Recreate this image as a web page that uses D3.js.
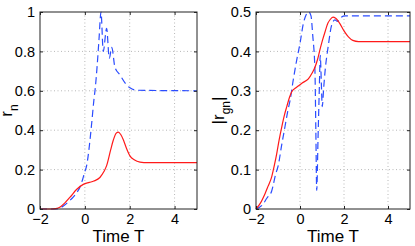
<!DOCTYPE html>
<html>
<head>
<meta charset="utf-8">
<script src="https://cdn.jsdelivr.net/npm/d3@7/dist/d3.min.js"></script>
<style>
body { margin: 0; background: #fff; }
text { font-family: "Liberation Sans", Arial, sans-serif; }
</style>
</head>
<body>
<div id="chart"></div>
<script>
// data
let xTicks = [-2, 0, 2, 4]
let xTickLabels = ["\u22122", "0", "2", "4"]
let leftYTicks = [0, 0.2, 0.4, 0.6, 0.8, 1]
let leftYTickLabels = ["0", "0.2", "0.4", "0.6", "0.8", "1"]
let rightYTicks = [0, 0.1, 0.2, 0.3, 0.4, 0.5]
let rightYTickLabels = ["0", "0.1", "0.2", "0.3", "0.4", "0.5"]

// left panel, r_n
let leftRedT = [-2, -1.5, -1.3, -1.1, -0.9, -0.66, -0.36, -0.07, 0.2, 0.4, 0.67, 0.85, 0.97, 1.15, 1.27, 1.4, 1.49, 1.6, 1.72, 1.85, 2.01, 2.2, 2.46, 2.8, 5]
let leftRedR = [0, 0, 0.002, 0.01, 0.03, 0.06, 0.1, 0.125, 0.135, 0.142, 0.16, 0.19, 0.22, 0.3, 0.35, 0.385, 0.39, 0.378, 0.35, 0.31, 0.27, 0.25, 0.238, 0.235, 0.235]
let leftBlueT = [-2, -1.3, -1.1, -0.9, -0.7, -0.52, -0.35, -0.22, -0.1, 0, 0.08, 0.2, 0.3, 0.4, 0.47, 0.55, 0.63, 0.72, 0.82, 0.97, 1.09, 1.2, 1.34, 1.57, 1.79, 2.01, 2.31, 5]
let leftBlueR = [0, 0, 0.006, 0.02, 0.04, 0.06, 0.085, 0.11, 0.15, 0.19, 0.22, 0.32, 0.43, 0.55, 0.62, 0.73, 0.86, 1, 0.8, 0.917, 0.765, 0.82, 0.72, 0.68, 0.64, 0.615, 0.603, 0.6]

// right panel, |r_gn|
let rightRedT = [-2, -1.8, -1.59, -1.45, -1.29, -1.15, -1.06, -0.95, -0.83, -0.7, -0.6, -0.48, -0.38, -0.2, -0.08, 0.1, 0.38, 0.55, 0.68, 0.8, 0.91, 1.02, 1.14, 1.27, 1.36, 1.5, 1.62, 1.82, 2, 2.2, 2.4, 2.66, 5]
let rightRedR = [0, 0.015, 0.039, 0.058, 0.081, 0.115, 0.14, 0.175, 0.208, 0.24, 0.26, 0.283, 0.297, 0.307, 0.312, 0.32, 0.33, 0.345, 0.36, 0.38, 0.405, 0.428, 0.45, 0.472, 0.48, 0.487, 0.484, 0.47, 0.452, 0.437, 0.428, 0.425, 0.425]
let rightBlueT = [-2, -1.73, -1.5, -1.29, -1.1, -0.99, -0.84, -0.68, -0.55, -0.45, -0.3, -0.15, 0, 0.15, 0.28, 0.4, 0.5, 0.58, 0.68, 0.72, 0.76, 0.82, 0.88, 0.92, 0.97, 1.01, 1.08, 1.14, 1.29, 1.44, 1.59, 1.7, 1.82, 2.05, 5]
let rightBlueR = [0, 0.009, 0.028, 0.045, 0.09, 0.11, 0.16, 0.21, 0.25, 0.276, 0.33, 0.378, 0.42, 0.47, 0.493, 0.5, 0.49, 0.44, 0.35, 0.2, 0.047, 0.18, 0.31, 0.39, 0.32, 0.26, 0.31, 0.35, 0.416, 0.467, 0.48, 0.476, 0.484, 0.49, 0.49]

let width = 415
let height = 246

let svg = d3.select("#chart")
            .append("svg")
            .attr("width", width)
            .attr("height", height)

function drawPanel(p) {
    let x = d3.scaleLinear().domain([-2, 5]).range([p.left, p.right])
    let y = d3.scaleLinear().domain([0, p.yMax]).range([p.bottom, p.top])
    let g = svg.append("g")

    // dotted grid
    g.selectAll(".gx").data(xTicks.filter(d => d > -2))
        .enter().append("line")
        .attr("x1", d => x(d)).attr("x2", d => x(d))
        .attr("y1", p.top).attr("y2", p.bottom)
        .attr("stroke", "#b8b8b8").attr("stroke-dasharray", "1,2.5")
    g.selectAll(".gy").data(p.yTicks.filter(d => d > 0 && d < p.yMax))
        .enter().append("line")
        .attr("y1", d => y(d)).attr("y2", d => y(d))
        .attr("x1", p.left).attr("x2", p.right)
        .attr("stroke", "#b8b8b8").attr("stroke-dasharray", "1,2.5")

    let line = d3.line()
        .x(d => x(d[0]))
        .y(d => y(d[1]))
        .curve(d3.curveMonotoneX)

    g.append("path")
        .datum(d3.zip(p.blueT, p.blueR))
        .attr("d", line)
        .attr("fill", "none")
        .attr("stroke", "#2b4cff")
        .attr("stroke-width", 1.2)
        .attr("stroke-dasharray", "7,4")

    g.append("path")
        .datum(d3.zip(p.redT, p.redR))
        .attr("d", line)
        .attr("fill", "none")
        .attr("stroke", "#ff1a1a")
        .attr("stroke-width", 1.2)

    // axes, ticks pointing inside
    let bottom = g.append("g").attr("transform", `translate(0,${p.bottom})`)
        .call(d3.axisBottom(x).tickValues(xTicks).tickSize(-3).tickPadding(5)
            .tickFormat((d, i) => xTickLabels[i]))
    let top = g.append("g").attr("transform", `translate(0,${p.top})`)
        .call(d3.axisTop(x).tickValues(xTicks).tickSize(-3).tickFormat(""))
    let left = g.append("g").attr("transform", `translate(${p.left},0)`)
        .call(d3.axisLeft(y).tickValues(p.yTicks).tickSize(-3).tickPadding(5)
            .tickFormat((d, i) => p.yLabels[i]))
    let right = g.append("g").attr("transform", `translate(${p.right},0)`)
        .call(d3.axisRight(y).tickValues(p.yTicks).tickSize(-3).tickFormat(""))

    ;[bottom, top, left, right].forEach(a => {
        a.select(".domain").remove()
        a.selectAll("line").attr("stroke", "#222")
        a.selectAll("text").attr("font-size", 14.5).attr("fill", "#000")
            .style("font-family", "'Liberation Sans', Arial, sans-serif")
    })

    g.append("rect")
        .attr("x", p.left).attr("y", p.top)
        .attr("width", p.right - p.left).attr("height", p.bottom - p.top)
        .attr("fill", "none").attr("stroke", "#222").attr("stroke-width", 1)

    g.append("text")
        .attr("x", (p.left + p.right) / 2).attr("y", 242)
        .attr("text-anchor", "middle").attr("font-size", 17)
        .text("Time T")

    let yl = g.append("text")
        .attr("transform", `translate(${p.labelX},${(p.top + p.bottom) / 2}) rotate(-90)`)
        .attr("text-anchor", "middle").attr("font-size", 17)
    yl.append("tspan").text(p.labelPre)
    yl.append("tspan").attr("font-size", 12).attr("dy", 6).text(p.labelSub)
    if (p.labelPost) yl.append("tspan").attr("dy", -6).text(p.labelPost)
}

drawPanel({
    left: 40, right: 197, top: 12, bottom: 209, yMax: 1,
    yTicks: leftYTicks, yLabels: leftYTickLabels,
    redT: leftRedT, redR: leftRedR, blueT: leftBlueT, blueR: leftBlueR,
    labelX: 12, labelPre: "r", labelSub: "n"
})

drawPanel({
    left: 256, right: 410, top: 12, bottom: 209, yMax: 0.5,
    yTicks: rightYTicks, yLabels: rightYTickLabels,
    redT: rightRedT, redR: rightRedR, blueT: rightBlueT, blueR: rightBlueR,
    labelX: 224, labelPre: "|r", labelSub: "gn", labelPost: "|"
})
</script>
</body>
</html>
